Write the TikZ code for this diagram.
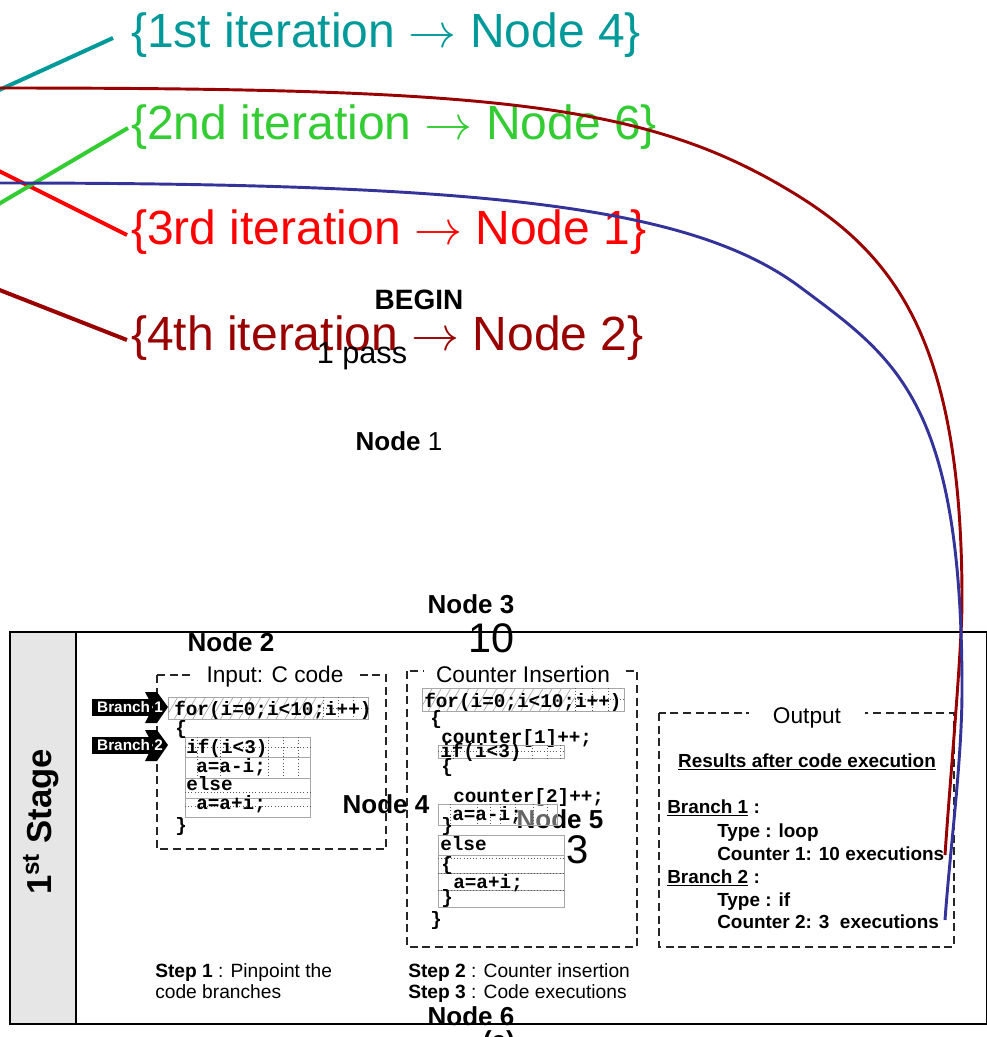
\RequirePackage{fix-cm}
\documentclass[tikz,border=0pt]{standalone}
\usepackage{fontspec}
\setmainfont{Liberation Sans}
\setmonofont{Liberation Mono}
\usetikzlibrary{patterns.meta}
\definecolor{cteal}{HTML}{009999}
\definecolor{cgreen}{HTML}{33CC33}
\definecolor{cred}{HTML}{FF0000}
\definecolor{cdred}{HTML}{990000}
\definecolor{cblue}{HTML}{333399}
\definecolor{cband}{HTML}{E6E6E6}
\newcommand{\fsz}[1]{\fontsize{#1}{#1}\selectfont}
\newcommand{\arr}{\ensuremath{\rightarrow}}
\begin{document}
\begin{tikzpicture}[x=0.75pt,y=-0.75pt,
  iter/.style={anchor=base west,inner sep=0pt,font=\fsz{36}},
  nlab/.style={anchor=base,inner sep=0pt,font=\fsz{19.5}\bfseries},
  big/.style={anchor=base,inner sep=0pt},
  code/.style={anchor=base west,inner sep=0pt,font=\fsz{14.5}\ttfamily\bfseries},
  dbox/.style={draw=black!85,line width=1pt,dash pattern=on 6pt off 3.5pt},
  btitle/.style={anchor=base,fill=white,inner xsep=9pt,inner ysep=3pt,font=\fsz{17}},
  outtxt/.style={anchor=base west,inner sep=0pt,font=\fsz{14.2}\bfseries},
  steptxt/.style={anchor=base west,inner sep=0pt,font=\fsz{14.4}},
  tagtxt/.style={anchor=center,inner sep=0pt,text=white,font=\fsz{11.5}\bfseries},
  rowbox/.style={draw=gray!70,line width=0.6pt},
  gridln/.style={gray!70!black,line width=0.4pt,dotted},
  hatch/.style={pattern={Lines[angle=60,distance=6pt,line width=0.5pt]},pattern color=gray!70},
  fatline/.style={line width=3pt},
  curve/.style={line width=2.2pt}
]
\useasboundingbox (0,0) rectangle (986,1037);

% ---------- stage frame ----------
\fill[cband] (10,632) rectangle (76,1024);
\draw[line width=1.5pt] (10,632) rectangle (987,1024);
\draw[line width=1.5pt] (76,632) -- (76,1024);
\node[rotate=90,inner sep=0pt,font=\fsz{26}\bfseries] (stage) at (41,822) {1\textsuperscript{st} Stage};

% ---------- input box ----------
\draw[dbox] (157,675) rectangle (386,849);
\node[btitle] (tin) at (275,682) {Input: C code};

\fill (92,699) rectangle (152,716);
\fill (145,692) -- (157,692) -- (168,707) -- (157,723) -- (145,723) -- (153,707) -- cycle;
\node[tagtxt] (br1) at (130,707.5) {Branch 1};
\fill (92,737) rectangle (152,754);
\fill (145,730) -- (157,730) -- (168,745) -- (157,761) -- (145,761) -- (153,745) -- cycle;
\node[tagtxt] (br2) at (130,745.5) {Branch 2};

\fill[hatch] (168,697) rectangle (323,719);
\draw[rowbox] (168,697) rectangle (368,719);
\foreach \x in {323,338,353} \draw[gridln] (\x,697) -- (\x,719);
\draw[gridln] (323,708) -- (368,708);
\node[code] (c1) at (174,715) {for(i=0;i<10;i++)};
\node[code] (c2) at (175,734) {\{};
\draw[rowbox] (185,737) rectangle (310,817);
\foreach \y in {757,778,798} \draw[rowbox] (185,\y) -- (310,\y);
\foreach \x in {197,220,268,283,298} \draw[gridln] (\x,737) -- (\x,778);
\draw[gridln] (185,747) -- (310,747);
\draw[gridln] (185,792) -- (310,792);
\draw[gridln] (185,806) -- (310,806);
\node[code] (c3) at (186,753) {if(i<3)};
\node[code] (c4) at (196,772) {a=a-i;};
\node[code] (c5) at (186,790) {else};
\node[code] (c6) at (196,809) {a=a+i;};
\node[code] (c7) at (175,831) {\}};

% ---------- counter insertion box ----------
\draw[dbox] (407,671) rectangle (637,947);
\node[btitle] (tci) at (523,682) {Counter Insertion};

\fill[hatch] (422,688) rectangle (575,711);
\draw[rowbox] (422,688) rectangle (624,711);
\foreach \x in {575,592,608} \draw[gridln] (\x,688) -- (\x,711);
\draw[gridln] (575,699.5) -- (624,699.5);
\node[code] (d1) at (424,707) {for(i=0;i<10;i++)};
\node[code] (d2) at (430,724) {\{};
\node[code] (d3) at (441,743) {counter[1]++;};
\draw[rowbox] (438,745) rectangle (564,758);
\foreach \x in {453,468,532,547,560} \draw[gridln] (\x,745) -- (\x,758);
\draw[gridln] (438,751.5) -- (564,751.5);
\node[code] (d4) at (440,757) {if(i<3)};
\node[code] (d5) at (441,772) {\{};
\node[code] (d6) at (453,802) {counter[2]++;};
\node[nlab] (n5) at (560,828) {Node 5};
\fill[white,opacity=0.4] (438,804) rectangle (557,825);
\draw[rowbox] (438,804) rectangle (557,825);
\foreach \x in {450,477,490,500,515,533,547} \draw[gridln] (\x,804) -- (\x,825);
\node[code] (d7) at (452,820) {a=a-i;};
\node[code] (d8) at (441,831) {\}};
\draw[rowbox] (438,835) rectangle (564,907);
\foreach \y in {855,873,890} \draw[rowbox] (438,\y) -- (564,\y);
\foreach \y in {858,873,890} \draw[gridln] (438,\y) -- (564,\y);
\node[code] (d9) at (440,850) {else};
\node[code] (d10) at (441,870) {\{};
\node[code] (d11) at (453,888) {a=a+i;};
\node[code] (d12) at (441,903) {\}};
\node[code] (d13) at (430,925) {\}};

% ---------- output box ----------
\draw[dbox] (659,713) rectangle (954,947);
\node[btitle,inner xsep=18pt] (tout) at (807,723) {Output};
\node[outtxt,anchor=base] (res) at (807,767) {\underline{Results after code execution}};
\node[outtxt] (ob1) at (667,813) {\underline{Branch 1} :};
\node[outtxt] (ot1) at (717,837) {Type : loop};
\node[outtxt] (oc1) at (717,860) {Counter 1: 10 executions};
\node[outtxt] (ob2) at (667,883) {\underline{Branch 2} :};
\node[outtxt] (ot2) at (717,906) {Type : if};
\node[outtxt] (oc2) at (717,928) {Counter 2: 3\ \ executions};

% ---------- steps ----------
\node[steptxt] (s1a) at (155,977) {\textbf{Step 1} : Pinpoint the};
\node[steptxt] (s1b) at (155,998) {code branches};
\node[steptxt] (s2) at (408,977) {\textbf{Step 2} : Counter insertion};
\node[steptxt] (s3) at (408,998) {\textbf{Step 3} : Code executions};

% ---------- iteration labels ----------
\node[iter,text=cteal] (it1) at (131,48) {\{1st iteration \arr{} Node 4\}};
\node[iter,text=cgreen] (it2) at (131,140) {\{2nd iteration \arr{} Node 6\}};
\node[iter,text=cred] (it3) at (131,245) {\{3rd iteration \arr{} Node 1\}};
\node[iter,text=cdred] (it4) at (131,350) {\{4th iteration \arr{} Node 2\}};

% ---------- black labels ----------
\node[big,font=\fsz{21}\bfseries] (begin) at (419,310) {BEGIN};
\node[big,font=\fsz{23}] (pass) at (362,363) {1 pass};
\node[nlab] (n1) at (399,450) {Node {\mdseries 1}};
\node[nlab] (n2) at (231,651) {Node 2};
\node[nlab] (n3) at (471,613) {Node 3};
\node[big,font=\fsz{31}] (ten) at (491,652) {10};
\node[nlab] (n4) at (386,813) {Node 4};
\node[big,font=\fsz{30}] (three) at (578,863) {3};
\node[nlab] (n6) at (471,1025) {Node 6};
\node[nlab] (na) at (499,1049) {(a)};

% ---------- straight lines ----------
\coordinate (t0) at (-3,91);  \coordinate (t1) at (113,38);
\coordinate (g0) at (-3,205); \coordinate (g1) at (128,128);
\coordinate (r0) at (-3,170); \coordinate (r1) at (127,235);
\coordinate (d0) at (-3,289); \coordinate (dd1) at (127,340);
\draw[fatline,cteal] (t0) -- (t1);
\draw[fatline,cred] (r0) -- (r1);
\draw[fatline,cgreen] (g0) -- (g1);
\draw[fatline,cdred] (d0) -- (dd1);

% ---------- long curves ----------
\coordinate (ca0) at (-5,88);  \coordinate (ca1) at (945,855);
\coordinate (cb0) at (-5,183); \coordinate (cb1) at (945,920);
\draw[curve,cdred] (ca0) .. controls (500,88) and (650,103) .. (800,197)
  .. controls (900,260) and (962,350) .. (962,600)
  .. controls (962,650) and (950,780) .. (ca1);
\draw[curve,cblue] (cb0) .. controls (480,183) and (690,205) .. (800,287)
  .. controls (895,358) and (962,400) .. (962,690)
  .. controls (962,760) and (950,850) .. (cb1);
\end{tikzpicture}
\end{document}
